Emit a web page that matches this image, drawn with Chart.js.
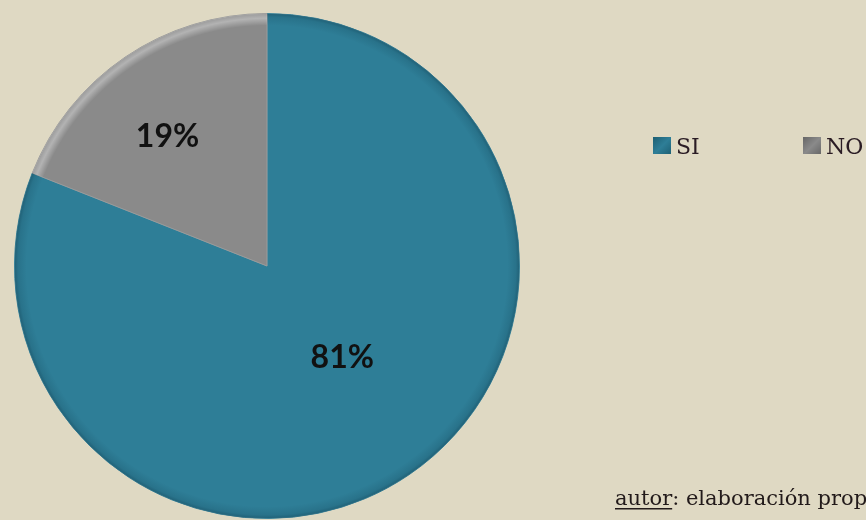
<html><head>
<meta charset="UTF-8">
<title>SI / NO</title>
<script src="https://cdn.jsdelivr.net/npm/chart.js"></script>
<style>
    html, body {
        margin: 0;
        padding: 0;
        background-color: #dfd9c3;
        overflow: hidden;
    }
    .chart-box {
        position: relative;
        width: 866px;
        height: 520px;
    }
</style>
</head>
<body>
    <div class="chart-box">
        <canvas id="pieChart"></canvas>
    </div>

    <script>
        // data
        const categories = ['SI', 'NO'];
        const percentValues = [81, 19];
        const sliceColors = ['#2e7e97', '#8a8a8a'];
        const footerLead = 'autor';
        const footerRest = ': elaboración prop';

        // bevel on slices, percent labels, legend and footer
        const decoPlugin = {
            id: 'deco',
            afterDatasetsDraw(chart) {
                const ctx = chart.ctx;
                const meta = chart.getDatasetMeta(0);
                const total = percentValues.reduce((a, b) => a + b, 0);

                meta.data.forEach((arc, i) => {
                    const p = arc.getProps(['x', 'y', 'startAngle', 'endAngle', 'outerRadius']);
                    ctx.save();
                    ctx.beginPath();
                    ctx.moveTo(p.x, p.y);
                    ctx.arc(p.x, p.y, p.outerRadius, p.startAngle, p.endAngle);
                    ctx.closePath();
                    ctx.clip();
                    // soft rim bevel
                    const g = ctx.createRadialGradient(p.x, p.y, p.outerRadius - 12, p.x, p.y, p.outerRadius);
                    if (i === 1) {
                        g.addColorStop(0, 'rgba(255,255,255,0)');
                        g.addColorStop(0.6, 'rgba(255,255,255,0.35)');
                        g.addColorStop(1, 'rgba(255,255,255,0.15)');
                    } else {
                        g.addColorStop(0, 'rgba(0,30,45,0)');
                        g.addColorStop(0.7, 'rgba(0,30,45,0.12)');
                        g.addColorStop(1, 'rgba(0,30,45,0.3)');
                    }
                    ctx.fillStyle = g;
                    ctx.fillRect(p.x - p.outerRadius, p.y - p.outerRadius, p.outerRadius * 2, p.outerRadius * 2);
                    ctx.restore();
                });

                // percent labels
                const radFrac = [0.47, 0.645];
                const angOff = [0.09, 0.06];
                ctx.save();
                ctx.font = 'bold 32px Lato, "Open Sans", sans-serif';
                ctx.fillStyle = '#111';
                ctx.textAlign = 'center';
                ctx.textBaseline = 'middle';
                meta.data.forEach((arc, i) => {
                    const p = arc.getProps(['x', 'y', 'startAngle', 'endAngle', 'outerRadius']);
                    const mid = (p.startAngle + p.endAngle) / 2 - angOff[i];
                    const r = p.outerRadius * radFrac[i];
                    const pct = Math.round(percentValues[i] / total * 100) + '%';
                    ctx.fillText(pct, p.x + Math.cos(mid) * r, p.y + Math.sin(mid) * r);
                });
                ctx.restore();

                // legend
                ctx.save();
                ctx.font = '22px "DejaVu Serif", "Liberation Serif", serif';
                ctx.textBaseline = 'alphabetic';
                const legendX = [653, 803];
                const markDark = ['#1d5f73', '#666'];
                categories.forEach((name, i) => {
                    const x = legendX[i];
                    const g = ctx.createLinearGradient(x, 137, x + 18, 155);
                    g.addColorStop(0, markDark[i]);
                    g.addColorStop(0.5, sliceColors[i]);
                    g.addColorStop(1, markDark[i]);
                    ctx.fillStyle = g;
                    ctx.fillRect(x, 137, 18, 17);
                    ctx.fillStyle = '#2a1c24';
                    ctx.fillText(name, x + 23, 154);
                });
                ctx.restore();

                // footer
                ctx.save();
                ctx.font = '21px "DejaVu Serif", "Liberation Serif", serif';
                ctx.fillStyle = '#221a1a';
                ctx.textBaseline = 'alphabetic';
                const fx = 615, fy = 505;
                ctx.fillText(footerLead, fx, fy);
                const w = ctx.measureText(footerLead).width;
                ctx.fillRect(fx, fy + 3, w, 1.5);
                ctx.fillText(footerRest, fx + w, fy);
                ctx.restore();
            }
        };

        const ctx = document.getElementById('pieChart').getContext('2d');
        const chart = new Chart(ctx, {
            type: 'pie',
            data: {
                labels: categories,
                datasets: [{
                    data: percentValues,
                    backgroundColor: sliceColors,
                    borderColor: ['#3f8aa1', '#9a9a9a'],
                    borderWidth: 1
                }]
            },
            options: {
                responsive: true,
                maintainAspectRatio: false,
                animation: false,
                layout: {
                    padding: { left: 14, right: 346, top: 13, bottom: 1 }
                },
                plugins: {
                    legend: { display: false },
                    tooltip: { enabled: false },
                    title: { display: false }
                }
            },
            plugins: [decoPlugin]
        });
    </script>
</body>
</html>
